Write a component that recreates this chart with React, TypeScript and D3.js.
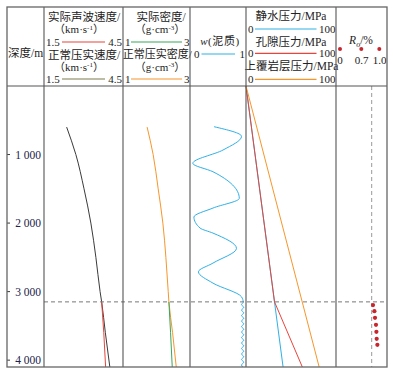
import React from "react";
import * as d3 from "d3";

// depth ticks (m)
const depthTicks = [1000, 2000, 3000, 4000];
const anomalyDepth = 3150;

// acoustic velocity (km/s)
const velNormalDepth = [600, 1000, 1500, 2000, 2500, 3000, 3150, 3600, 4100];
const velNormal = [2.36, 2.71, 3.02, 3.28, 3.47, 3.63, 3.69, 3.83, 4.0];
const velActualDepth = [3150, 3600, 4100];
const velActual = [3.69, 3.77, 3.84];

// density (g/cm3)
const denNormalDepth = [600, 1000, 1500, 2000, 2500, 3000, 3150, 3600, 4100];
const denNormal = [1.72, 1.9, 2.05, 2.19, 2.28, 2.35, 2.37, 2.48, 2.59];
const denActualDepth = [3150, 3600, 4100];
const denActual = [2.37, 2.42, 2.47];

// shale content w
const wDepth = [
  594, 735, 934, 1128, 1251, 1639, 1781, 1912, 2073, 2146, 2369, 2584, 2711, 2876, 3076, 3153,
  3190, 3230, 3270, 3310, 3350, 3390, 3430, 3470, 3510, 3550, 3590, 3630, 3670, 3710, 3750,
  3790, 3830, 3870, 3910, 3950, 3990, 4030, 4070, 4100,
];
const wValue = [
  0.43, 0.92, 0.59, 0.05, 0.41, 0.88, 0.41, 0.07, 0.18, 0.41, 0.83, 0.41, 0.15, 0.41, 0.92, 0.95,
  0.92, 0.96, 0.92, 0.96, 0.92, 0.96, 0.92, 0.96, 0.92, 0.96, 0.92, 0.96, 0.92, 0.96, 0.92,
  0.96, 0.92, 0.96, 0.92, 0.96, 0.92, 0.96, 0.92, 0.94,
];

// pressures (MPa)
const hydroDepth = [0, 4100];
const hydro = [0, 41.2];
const poreDepth = [0, 3150, 4100];
const pore = [0, 31.7, 62.6];
const overDepth = [0, 4100];
const over = [0, 81.3];

// vitrinite reflectance Ro (%)
const roDepth = [3197, 3285, 3382, 3484, 3587, 3689, 3777];
const roValue = [0.726, 0.753, 0.765, 0.784, 0.792, 0.798, 0.811];
const roThreshold = 0.7;

const W = 393;
const H = 374;
const cols = [7, 44, 123, 190, 246, 336, 387];
const top = 7;
const headBottom = 86;
const bottom = 367;

const FONT = "'Liberation Serif', 'Noto Sans CJK SC', serif";
const TXT = "#222";
const RED = "#e8453c";
const BLUE = "#2fb0e6";
const ORANGE = "#f7962a";
const GREEN = "#3aa65a";
const OLIVE = "#7c7a4c";
const DARK = "#3a3a3a";

const y = d3.scaleLinear().domain([0, 4100]).range([headBottom, bottom]);
const xVel = d3.scaleLinear().domain([1.5, 4.5]).range([cols[1], cols[2]]);
const xDen = d3.scaleLinear().domain([1, 3]).range([cols[2], cols[3]]);
const xW = d3.scaleLinear().domain([0, 1]).range([cols[3], cols[4]]);
const xP = d3.scaleLinear().domain([0, 100]).range([cols[4], cols[5]]);
const xRo = d3.scaleLinear().domain([0, 1]).range([cols[5], cols[6]]);

const path = (
  depths: number[],
  values: number[],
  x: d3.ScaleLinear<number, number>,
  curve: d3.CurveFactory = d3.curveMonotoneY
) =>
  d3
    .line<number>()
    .x((_, i) => x(values[i]))
    .y((d) => y(d))
    .curve(curve)(depths) || "";

const Sup = ({ s }: { s: string }) => (
  <>
    <tspan dy={-3.5} fontSize={7}>
      {s}
    </tspan>
    <tspan dy={3.5}>）</tspan>
  </>
);

const Legend = ({
  x0,
  x1,
  l0,
  l1,
  lo,
  hi,
  cy,
  color,
}: {
  x0: number;
  x1: number;
  l0: number;
  l1: number;
  lo: string;
  hi: string;
  cy: number;
  color: string;
}) => (
  <g>
    <text x={x0} y={cy} dy="0.35em" textAnchor="start">
      {lo}
    </text>
    <line x1={l0} x2={l1} y1={cy} y2={cy} stroke={color} strokeWidth={1.2} />
    <text x={x1} y={cy} dy="0.35em" textAnchor="end">
      {hi}
    </text>
  </g>
);

export default function App() {
  return (
    <svg
      width={W}
      height={H}
      style={{ position: "absolute", left: 0, top: 0, background: "#fff" }}
      fontFamily={FONT}
      fontSize={11}
      fill={TXT}
    >
      {/* header */}
      <text x={cols[0] + 1} y={53} dy="0.35em" fontSize={11.5}>
        深度/m
      </text>

      <g textAnchor="middle">
        <text x={84} y={17} dy="0.35em" fontSize={11.5}>实际声波速度/</text>
        <text x={79} y={29.5} dy="0.35em">
          （km·s<Sup s="-1" />
        </text>
        <text x={84} y={54.5} dy="0.35em" fontSize={11.5}>正常压实速度/</text>
        <text x={79} y={67} dy="0.35em">
          （km·s<Sup s="-1" />
        </text>

        <text x={161} y={17} dy="0.35em" fontSize={11.5}>实际密度/</text>
        <text x={160} y={29.5} dy="0.35em">
          （g·cm<Sup s="-3" />
        </text>
        <text x={157.3} y={54.5} dy="0.35em">正常压实密度/</text>
        <text x={160} y={67} dy="0.35em">
          （g·cm<Sup s="-3" />
        </text>

        <text x={220} y={41} dy="0.35em" letterSpacing={0.6}>
          <tspan fontStyle="italic">w</tspan>(泥质)
        </text>

        <text x={291} y={15.7} dy="0.35em" fontSize={11.5}>静水压力/MPa</text>
        <text x={291} y={42.3} dy="0.35em" fontSize={11.5}>孔隙压力/MPa</text>
        <text x={291.5} y={66} dy="0.35em" fontSize={11.5}>上覆岩层压力/MPa</text>

        <text x={361} y={40} dy="0.35em" fontSize={11.5}>
          <tspan fontStyle="italic">R</tspan>
          <tspan fontStyle="italic" fontSize={8} dy={3}>o</tspan>
          <tspan dy={-3}>/%</tspan>
        </text>
        <text x={340} y={60} dy="0.35em">0</text>
        <text x={361.5} y={60} dy="0.35em">0.7</text>
        <text x={379.5} y={60} dy="0.35em">1.0</text>
      </g>
      {[340, 361.3, 379.3].map((cx) => (
        <circle key={cx} cx={cx} cy={49} r={2} fill="#c9252c" />
      ))}

      <Legend x0={46} x1={122} l0={62} l1={105} lo="1.5" hi="4.5" cy={42} color={RED} />
      <Legend x0={46} x1={122} l0={62} l1={105} lo="1.5" hi="4.5" cy={79} color={OLIVE} />
      <Legend x0={125} x1={189.5} l0={131} l1={182} lo="1" hi="3" cy={42} color={GREEN} />
      <Legend x0={125} x1={189.5} l0={131} l1={182} lo="1" hi="3" cy={79} color={ORANGE} />
      <Legend x0={194} x1={245} l0={201.5} l1={235} lo="0" hi="1" cy={54} color={BLUE} />
      <Legend x0={248} x1={335.5} l0={255} l1={316.5} lo="0" hi="100" cy={29} color={BLUE} />
      <Legend x0={248} x1={335.5} l0={255} l1={316.5} lo="0" hi="100" cy={53.3} color={RED} />
      <Legend x0={248} x1={335.5} l0={255} l1={316.5} lo="0" hi="100" cy={79.3} color={ORANGE} />

      {/* depth axis */}
      {depthTicks.map((d) => (
        <g key={d}>
          <line x1={cols[0]} x2={cols[0] + 3} y1={y(d)} y2={y(d)} stroke={DARK} strokeWidth={1} />
          <text x={cols[1] - 3} y={y(d)} dy="0.35em" textAnchor="end" fill="#22224a" fontSize={11.5}>
            {d3.format(",")(d).replace(",", " ")}
          </text>
        </g>
      ))}

      {/* velocity */}
      <path d={path(velNormalDepth, velNormal, xVel)} fill="none" stroke={DARK} strokeWidth={1} />
      <path d={path(velActualDepth, velActual, xVel)} fill="none" stroke={RED} strokeWidth={1} />

      {/* density */}
      <path d={path(denNormalDepth, denNormal, xDen)} fill="none" stroke={ORANGE} strokeWidth={1} />
      <path d={path(denActualDepth, denActual, xDen)} fill="none" stroke={GREEN} strokeWidth={1} />

      {/* shale content */}
      <path d={path(wDepth, wValue, xW)} fill="none" stroke={BLUE} strokeWidth={1} />

      {/* pressures */}
      <path d={path(hydroDepth, hydro, xP, d3.curveLinear)} fill="none" stroke={BLUE} strokeWidth={1} />
      <path d={path(poreDepth, pore, xP, d3.curveLinear)} fill="none" stroke={RED} strokeWidth={1} />
      <path d={path(overDepth, over, xP, d3.curveLinear)} fill="none" stroke={ORANGE} strokeWidth={1} />

      {/* reference dashed lines */}
      <line
        x1={cols[1]}
        x2={cols[6]}
        y1={y(anomalyDepth)}
        y2={y(anomalyDepth)}
        stroke="#777"
        strokeWidth={1}
        strokeDasharray="4,3"
      />
      <line
        x1={xRo(roThreshold)}
        x2={xRo(roThreshold)}
        y1={headBottom}
        y2={bottom}
        stroke="#999"
        strokeWidth={1}
        strokeDasharray="4,3"
      />

      {/* Ro points */}
      {roDepth.map((d, i) => (
        <circle key={d} cx={xRo(roValue[i])} cy={y(d)} r={2.1} fill="#c9252c" />
      ))}

      {/* frame */}
      {cols.slice(1, -1).map((c) => (
        <line key={c} x1={c} x2={c} y1={top} y2={bottom} stroke="#555" strokeWidth={1.1} />
      ))}
      <line x1={cols[0]} x2={cols[6]} y1={headBottom} y2={headBottom} stroke="#555" strokeWidth={1.1} />
      <rect
        x={cols[0]}
        y={top}
        width={cols[6] - cols[0]}
        height={bottom - top}
        fill="none"
        stroke="#666"
        strokeWidth={1.3}
      />
    </svg>
  );
}
